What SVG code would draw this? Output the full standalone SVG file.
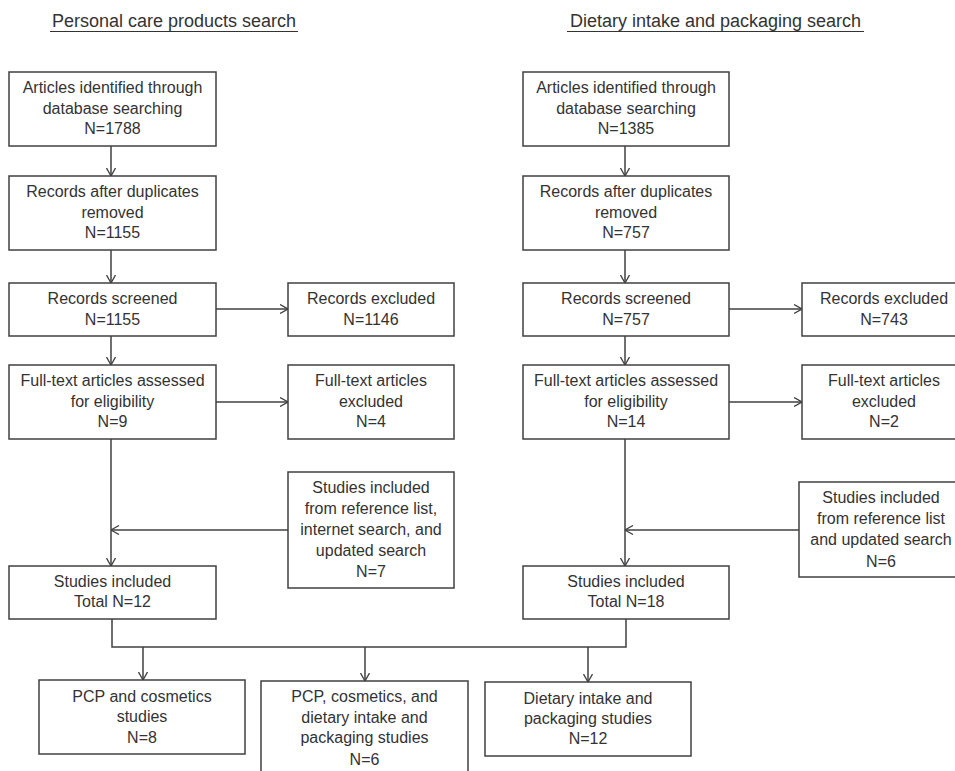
<svg xmlns="http://www.w3.org/2000/svg" width="955" height="771" viewBox="0 0 955 771">
<defs>
<marker id="ah" markerUnits="userSpaceOnUse" viewBox="0 0 9 10" refX="8.5" refY="5" markerWidth="9" markerHeight="10" orient="auto">
<path d="M0.5,0.5 L8.5,5 L0.5,9.5" fill="none" stroke="#404040" stroke-width="1.3"/>
</marker>
</defs>
<style>
.box{fill:#fff;stroke:#404040;stroke-width:1.5}
.t{font-family:"Liberation Sans",Arial,sans-serif;font-size:16px;fill:#333;text-anchor:middle}
.title{font-family:"Liberation Sans",Arial,sans-serif;font-size:18px;fill:#333;text-anchor:middle}
.ul{stroke:#333;stroke-width:1.2}
.c{fill:none;stroke:#404040;stroke-width:1.5}
.a{marker-end:url(#ah)}
</style>
<rect width="955" height="771" fill="#fff"/>
<g id="titles">
<text class="title" x="174" y="27">Personal care products search</text>
<line class="ul" x1="50" y1="31.5" x2="298" y2="31.5"/>
<text class="title" x="715.5" y="27">Dietary intake and packaging search</text>
<line class="ul" x1="567" y1="31.5" x2="864" y2="31.5"/>
</g>
<g id="connectors">
<line class="c a" x1="111" y1="146" x2="111" y2="176"/>
<line class="c a" x1="111" y1="250" x2="111" y2="283"/>
<line class="c a" x1="111" y1="336" x2="111" y2="365"/>
<line class="c a" x1="216" y1="309" x2="288" y2="309"/>
<line class="c a" x1="216" y1="402" x2="288" y2="402"/>
<line class="c a" x1="111" y1="439" x2="111" y2="566"/>
<line class="c a" x1="288" y1="530" x2="111" y2="530"/>
<line class="c a" x1="625" y1="146" x2="625" y2="176"/>
<line class="c a" x1="625" y1="250" x2="625" y2="283"/>
<line class="c a" x1="625" y1="336" x2="625" y2="365"/>
<line class="c a" x1="729" y1="309" x2="802" y2="309"/>
<line class="c a" x1="729" y1="402" x2="802" y2="402"/>
<line class="c a" x1="625" y1="439" x2="625" y2="566"/>
<line class="c a" x1="799" y1="530" x2="625" y2="530"/>
<path class="c" d="M112,619 V647 H626 V619"/>
<line class="c a" x1="143" y1="647" x2="143" y2="680"/>
<line class="c a" x1="365" y1="647" x2="365" y2="681"/>
<line class="c a" x1="588" y1="647" x2="588" y2="682"/>
</g>
<g id="l-identified">
<rect class="box" x="9" y="72" width="207" height="74"/>
<text class="t" x="112.5" y="93">Articles identified through</text>
<text class="t" x="112.5" y="114">database searching</text>
<text class="t" x="112.5" y="134">N=1788</text>
</g>
<g id="l-dedup">
<rect class="box" x="9" y="176" width="207" height="74"/>
<text class="t" x="112.5" y="197">Records after duplicates</text>
<text class="t" x="112.5" y="218">removed</text>
<text class="t" x="112.5" y="238">N=1155</text>
</g>
<g id="l-screened">
<rect class="box" x="9" y="283" width="207" height="53"/>
<text class="t" x="112.5" y="304">Records screened</text>
<text class="t" x="112.5" y="325">N=1155</text>
</g>
<g id="l-rexcl">
<rect class="box" x="288" y="283" width="166" height="53"/>
<text class="t" x="371" y="304">Records excluded</text>
<text class="t" x="371" y="325">N=1146</text>
</g>
<g id="l-fulltext">
<rect class="box" x="9" y="365" width="207" height="74"/>
<text class="t" x="112.5" y="386">Full-text articles assessed</text>
<text class="t" x="112.5" y="407">for eligibility</text>
<text class="t" x="112.5" y="427">N=9</text>
</g>
<g id="l-ftexcl">
<rect class="box" x="288" y="365" width="166" height="74"/>
<text class="t" x="371" y="386">Full-text articles</text>
<text class="t" x="371" y="407">excluded</text>
<text class="t" x="371" y="427">N=4</text>
</g>
<g id="l-extra">
<rect class="box" x="288" y="472" width="166" height="116"/>
<text class="t" x="371" y="493">Studies included</text>
<text class="t" x="371" y="514">from reference list,</text>
<text class="t" x="371" y="535">internet search, and</text>
<text class="t" x="371" y="556">updated search</text>
<text class="t" x="371" y="577">N=7</text>
</g>
<g id="l-included">
<rect class="box" x="9" y="566" width="207" height="53"/>
<text class="t" x="112.5" y="587">Studies included</text>
<text class="t" x="112.5" y="607">Total N=12</text>
</g>
<g id="r-identified">
<rect class="box" x="523" y="72" width="206" height="74"/>
<text class="t" x="626" y="93">Articles identified through</text>
<text class="t" x="626" y="114">database searching</text>
<text class="t" x="626" y="134">N=1385</text>
</g>
<g id="r-dedup">
<rect class="box" x="523" y="176" width="206" height="74"/>
<text class="t" x="626" y="197">Records after duplicates</text>
<text class="t" x="626" y="218">removed</text>
<text class="t" x="626" y="238">N=757</text>
</g>
<g id="r-screened">
<rect class="box" x="523" y="283" width="206" height="53"/>
<text class="t" x="626" y="304">Records screened</text>
<text class="t" x="626" y="325">N=757</text>
</g>
<g id="r-rexcl">
<rect class="box" x="802" y="283" width="166" height="53"/>
<text class="t" x="884" y="304">Records excluded</text>
<text class="t" x="884" y="325">N=743</text>
</g>
<g id="r-fulltext">
<rect class="box" x="523" y="365" width="206" height="74"/>
<text class="t" x="626" y="386">Full-text articles assessed</text>
<text class="t" x="626" y="407">for eligibility</text>
<text class="t" x="626" y="427">N=14</text>
</g>
<g id="r-ftexcl">
<rect class="box" x="802" y="365" width="166" height="74"/>
<text class="t" x="884" y="386">Full-text articles</text>
<text class="t" x="884" y="407">excluded</text>
<text class="t" x="884" y="427">N=2</text>
</g>
<g id="r-extra">
<rect class="box" x="799" y="482" width="166" height="95"/>
<text class="t" x="881" y="503">Studies included</text>
<text class="t" x="881" y="524">from reference list</text>
<text class="t" x="881" y="545">and updated search</text>
<text class="t" x="881" y="567">N=6</text>
</g>
<g id="r-included">
<rect class="box" x="523" y="566" width="206" height="53"/>
<text class="t" x="626" y="587">Studies included</text>
<text class="t" x="626" y="607">Total N=18</text>
</g>
<g id="b-pcp">
<rect class="box" x="39" y="680" width="206" height="74"/>
<text class="t" x="142" y="702">PCP and cosmetics</text>
<text class="t" x="142" y="722">studies</text>
<text class="t" x="142" y="743">N=8</text>
</g>
<g id="b-both">
<rect class="box" x="261" y="681" width="207" height="100"/>
<text class="t" x="364.5" y="702">PCP, cosmetics, and</text>
<text class="t" x="364.5" y="723">dietary intake and</text>
<text class="t" x="364.5" y="743">packaging studies</text>
<text class="t" x="364.5" y="765">N=6</text>
</g>
<g id="b-diet">
<rect class="box" x="485" y="682" width="206" height="74"/>
<text class="t" x="588" y="704">Dietary intake and</text>
<text class="t" x="588" y="724">packaging studies</text>
<text class="t" x="588" y="744">N=12</text>
</g>
</svg>
